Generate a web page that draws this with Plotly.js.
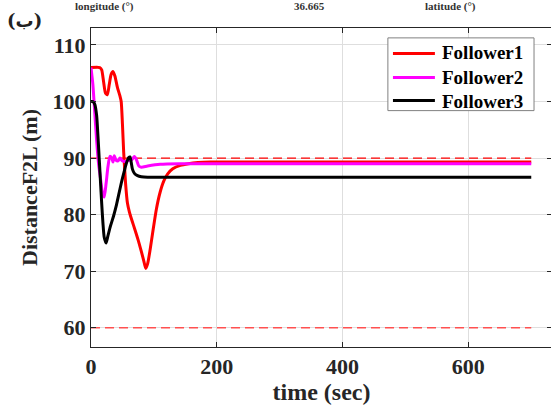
<!DOCTYPE html>
<html>
<head>
<meta charset="utf-8">
<script src="https://cdn.plot.ly/plotly-3.0.1.min.js"></script>
<style>
html,body{margin:0;padding:0;overflow:hidden;background:#fff;}
#chart{width:560px;height:406px;}
</style>
</head>
<body>
<div id="chart"></div>
<script>
// ---- data ----
var f1Time = [0, 14, 17, 20, 23, 26, 29, 32, 35, 38, 42, 46, 48, 50, 52, 55, 58, 61, 65, 70, 75, 80, 84, 87, 90, 94, 99, 104, 110, 116, 122, 130, 142, 155, 170, 190, 700];
var f1Dist = [106, 106, 105.6, 103.5, 101.5, 101.2, 103, 104.8, 105.3, 104.5, 102.5, 101, 100, 96, 91, 85.5, 82, 80.5, 79, 77.3, 75.5, 73.5, 71.8, 70.5, 71.3, 73.8, 77.5, 81, 84, 86, 87.2, 88.1, 88.7, 89.0, 89.2, 89.3, 89.3];

var f2Time = [0, 3, 6, 9, 12, 15, 18, 21, 24, 27, 30, 33, 35, 37, 40, 43, 46, 50, 55, 60, 65, 69, 72, 76, 80, 90, 110, 140, 700];
var f2Dist = [106, 103, 98, 93, 89, 86.5, 84, 83.1, 85.5, 88.5, 90.3, 90.0, 89.3, 90.4, 89.6, 89.5, 90.0, 89.5, 89.4, 89.6, 89.7, 90.3, 89.8, 88.6, 88.4, 88.6, 88.9, 89.0, 89.0];

var f3Time = [0, 3, 6, 9, 11, 13, 15, 17, 19, 21, 24, 27, 31, 36, 40, 44, 48, 52, 56, 60, 62, 64, 66, 69, 74, 80, 90, 700];
var f3Dist = [100, 100, 99.5, 97.5, 94, 90, 86, 82, 78.5, 76, 75, 76.3, 78, 79.8, 81.5, 83.5, 85.5, 87.3, 89, 90.1, 90.2, 89.2, 88, 87.3, 86.9, 86.7, 86.6, 86.6];

var refTime = [0, 700];
var refUpper = [90, 90];
var refLower = [60, 60];

var seriesNames = ['Follower1', 'Follower2', 'Follower3'];
var seriesColors = ['#ff0000', '#ff00ff', '#000000'];
var xTicks = [0, 200, 400, 600];
var yTicks = [60, 70, 80, 90, 100, 110];

// ---- chart ----
var serif = 'Liberation Serif, Times New Roman, serif';

var traces = [
  {x: refTime, y: refUpper, mode: 'lines', showlegend: false, hoverinfo: 'skip',
   line: {color: '#ff0000', width: 1.2, dash: '9px,5px'}},
  {x: refTime, y: refLower, mode: 'lines', showlegend: false, hoverinfo: 'skip',
   line: {color: '#ff5050', width: 1.4, dash: '9px,5px'}},
  {x: f1Time, y: f1Dist, name: seriesNames[0], mode: 'lines', showlegend: false, line: {color: seriesColors[0], width: 3, shape: 'spline', smoothing: 0.6}},
  {x: f2Time, y: f2Dist, name: seriesNames[1], mode: 'lines', showlegend: false, line: {color: seriesColors[1], width: 3, shape: 'spline', smoothing: 0.6}},
  {x: f3Time, y: f3Dist, name: seriesNames[2], mode: 'lines', showlegend: false, line: {color: seriesColors[2], width: 3, shape: 'spline', smoothing: 0.6}}
];

var axisCommon = {
  showline: true, linecolor: '#262626', linewidth: 1, mirror: 'ticks',
  ticks: 'inside', ticklen: 5, tickcolor: '#262626', tickwidth: 1,
  showgrid: true, gridcolor: '#dedede', gridwidth: 1, zeroline: false,
  tickfont: {family: serif, size: 22, color: '#262626', weight: 'bold'}
};

// legend box (drawn in paper coordinates, top-right of the axes)
var legX0 = 0.644, legX1 = 0.961, legY0 = 0.741, legY1 = 0.969;
var legRows = [0.920, 0.845, 0.7726];
var shapes = [
  {type: 'rect', xref: 'paper', yref: 'paper', x0: legX0, x1: legX1, y0: legY0, y1: legY1,
   fillcolor: '#ffffff', line: {color: '#808080', width: 1}, layer: 'above'}
];
legRows.forEach(function (ry, i) {
  shapes.push({type: 'line', xref: 'paper', yref: 'paper', x0: 0.655, x1: 0.746, y0: ry, y1: ry,
    line: {color: seriesColors[i], width: 3}, layer: 'above'});
});

var layout = {
  width: 560, height: 406,
  margin: {l: 91, r: 8, t: 28, b: 59},
  paper_bgcolor: '#ffffff', plot_bgcolor: '#ffffff',
  font: {family: serif},
  showlegend: false,
  xaxis: Object.assign({}, axisCommon, {
    range: [0, 733], tickvals: xTicks, ticktext: xTicks.map(String),
    title: {text: 'time (sec)', standoff: 4, font: {family: serif, size: 24, color: '#262626', weight: 'bold'}}
  }),
  yaxis: Object.assign({}, axisCommon, {
    range: [56.6, 113], tickvals: yTicks, ticktext: yTicks.map(String),
    title: {text: 'DistanceF2L (m)', standoff: 8, font: {family: serif, size: 22, color: '#262626', weight: 'bold'}}
  }),
  shapes: shapes,
  annotations: [
    {text: seriesNames.join('<br>'), xref: 'paper', yref: 'paper', x: 0.757, y: 0.8457,
     xanchor: 'left', yanchor: 'middle', align: 'left', showarrow: false,
     font: {family: serif, size: 19, color: '#000000', weight: 'bold'}},
    {text: '(ب)', xref: 'paper', yref: 'paper', x: -0.145, y: 1.022, xanchor: 'center', yanchor: 'middle',
     showarrow: false, font: {family: 'DejaVu Serif, DejaVu Sans, serif', size: 18, color: '#222', weight: 'bold'}},
    {text: '36.665', xref: 'paper', yref: 'paper', x: 0.473, y: 1.068, xanchor: 'center', yanchor: 'middle',
     showarrow: false, font: {family: serif, size: 11, color: '#333', weight: 'bold'}},
    {text: 'latitude (°)', xref: 'paper', yref: 'paper', x: 0.779, y: 1.066, xanchor: 'center', yanchor: 'middle',
     showarrow: false, font: {family: serif, size: 11, color: '#333', weight: 'bold'}},
    {text: 'longitude (°)', xref: 'paper', yref: 'paper', x: 0.03, y: 1.066, xanchor: 'center', yanchor: 'middle',
     showarrow: false, font: {family: serif, size: 11, color: '#333', weight: 'bold'}}
  ]
};

Plotly.newPlot('chart', traces, layout, {staticPlot: true, displayModeBar: false});
</script>
</body>
</html>
